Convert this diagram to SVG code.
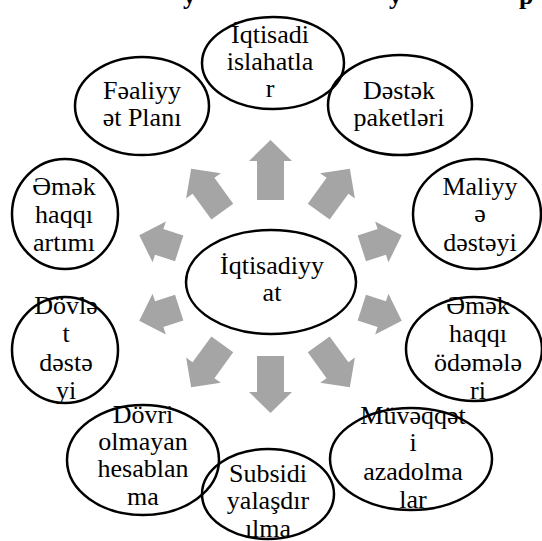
<svg xmlns="http://www.w3.org/2000/svg" xmlns:xlink="http://www.w3.org/1999/xlink" width="542" height="541" viewBox="0 0 542 541">
<style>
  .n { fill: none; stroke: #000; stroke-width: 2.5; }
  .t { font-family: "Liberation Serif", "DejaVu Serif", "Times New Roman", serif; font-size: 26px; fill: #000; text-anchor: middle; }
  .ttl { font-family: "Liberation Serif", "DejaVu Serif", "Times New Roman", serif; font-size: 26px; font-weight: bold; fill: #000; }
  .a { fill: #a5a5a5; }
</style>
<defs>
  <polygon id="aU" class="a" points="78,-13.5 117,-13.5 117,-21.5 138,0 117,21.5 117,13.5 78,13.5"/>
  <polygon id="aD" class="a" points="78,-13.5 114,-13.5 114,-21.5 135,0 114,21.5 114,13.5 78,13.5"/>
  <polygon id="aG" class="a" points="82,-13.5 114,-13.5 114,-21.5 135,0 114,21.5 114,13.5 82,13.5"/>
  <polygon id="aS" class="a" points="96,-13.5 117,-13.5 117,-21.5 138,0 117,21.5 117,13.5 96,13.5"/>
</defs>
<rect width="542" height="541" fill="#fff"/>
<g id="title">
  <text class="ttl" x="183" y="4">y</text>
  <text class="ttl" x="389" y="4">y</text>
  <text class="ttl" x="519" y="4">p</text>
</g>
<g id="connectors">
  <use xlink:href="#aU" transform="translate(270.5 278) rotate(-90)"/>
  <use xlink:href="#aG" transform="translate(270.5 278) rotate(-54)"/>
  <use xlink:href="#aS" transform="translate(270.5 278) rotate(-18)"/>
  <use xlink:href="#aS" transform="translate(270.5 278) rotate(18)"/>
  <use xlink:href="#aG" transform="translate(270.5 278) rotate(54)"/>
  <use xlink:href="#aD" transform="translate(270.5 278) rotate(90)"/>
  <use xlink:href="#aG" transform="translate(270.5 278) rotate(126)"/>
  <use xlink:href="#aS" transform="translate(270.5 278) rotate(162)"/>
  <use xlink:href="#aS" transform="translate(270.5 278) rotate(198)"/>
  <use xlink:href="#aG" transform="translate(270.5 278) rotate(234)"/>
</g>
<g id="n-center">
  <ellipse class="n" cx="271" cy="282" rx="85" ry="52"/>
  <text class="t" x="272" y="274">İqtisadiyy</text>
  <text class="t" x="272" y="301">at</text>
</g>
<g id="n-islahatlar">
  <ellipse class="n" cx="273" cy="63" rx="71" ry="46"/>
  <text class="t" x="270" y="43">İqtisadi</text>
  <text class="t" x="270" y="70">islahatla</text>
  <text class="t" x="270" y="97">r</text>
</g>
<g id="n-plan">
  <ellipse class="n" cx="142" cy="106" rx="67" ry="49"/>
  <text class="t" x="142" y="99">Fəaliyy</text>
  <text class="t" x="142" y="126">ət Planı</text>
</g>
<g id="n-paket">
  <ellipse class="n" cx="400" cy="105" rx="72" ry="50"/>
  <text class="t" x="399" y="99">Dəstək</text>
  <text class="t" x="399" y="126">paketləri</text>
</g>
<g id="n-artim">
  <ellipse class="n" cx="65" cy="214" rx="53" ry="55"/>
  <text class="t" x="64" y="195">Əmək</text>
  <text class="t" x="64" y="223">haqqı</text>
  <text class="t" x="64" y="251">artımı</text>
</g>
<g id="n-maliyye">
  <ellipse class="n" cx="477" cy="214" rx="64" ry="55"/>
  <text class="t" x="480" y="195">Maliyy</text>
  <text class="t" x="480" y="222">ə</text>
  <text class="t" x="480" y="251">dəstəyi</text>
</g>
<g id="n-dovlet">
  <ellipse class="n" cx="65" cy="350" rx="53" ry="53"/>
  <text class="t" x="66" y="314">Dövlə</text>
  <text class="t" x="66" y="342">t</text>
  <text class="t" x="66" y="371">dəstə</text>
  <text class="t" x="66" y="399">yi</text>
</g>
<g id="n-odemeler">
  <ellipse class="n" cx="474" cy="349" rx="68" ry="52"/>
  <text class="t" x="478" y="314">Əmək</text>
  <text class="t" x="478" y="342">haqqı</text>
  <text class="t" x="478" y="371">ödəmələ</text>
  <text class="t" x="478" y="399">ri</text>
</g>
<g id="n-dovri">
  <ellipse class="n" cx="143" cy="460" rx="76" ry="55"/>
  <text class="t" x="143" y="423">Dövri</text>
  <text class="t" x="143" y="450">olmayan</text>
  <text class="t" x="143" y="477">hesablan</text>
  <text class="t" x="143" y="505">ma</text>
</g>
<g id="n-subsidi">
  <ellipse class="n" cx="268" cy="494" rx="66" ry="45"/>
  <text class="t" x="268" y="482">Subsidi</text>
  <text class="t" x="268" y="509">yalaşdır</text>
  <text class="t" x="268" y="537">ılma</text>
</g>
<g id="n-muveqqeti">
  <ellipse class="n" cx="411" cy="459" rx="81" ry="51"/>
  <text class="t" x="413" y="424">Müvəqqət</text>
  <text class="t" x="413" y="451">i</text>
  <text class="t" x="413" y="480">azadolma</text>
  <text class="t" x="413" y="508">lar</text>
</g>
</svg>
